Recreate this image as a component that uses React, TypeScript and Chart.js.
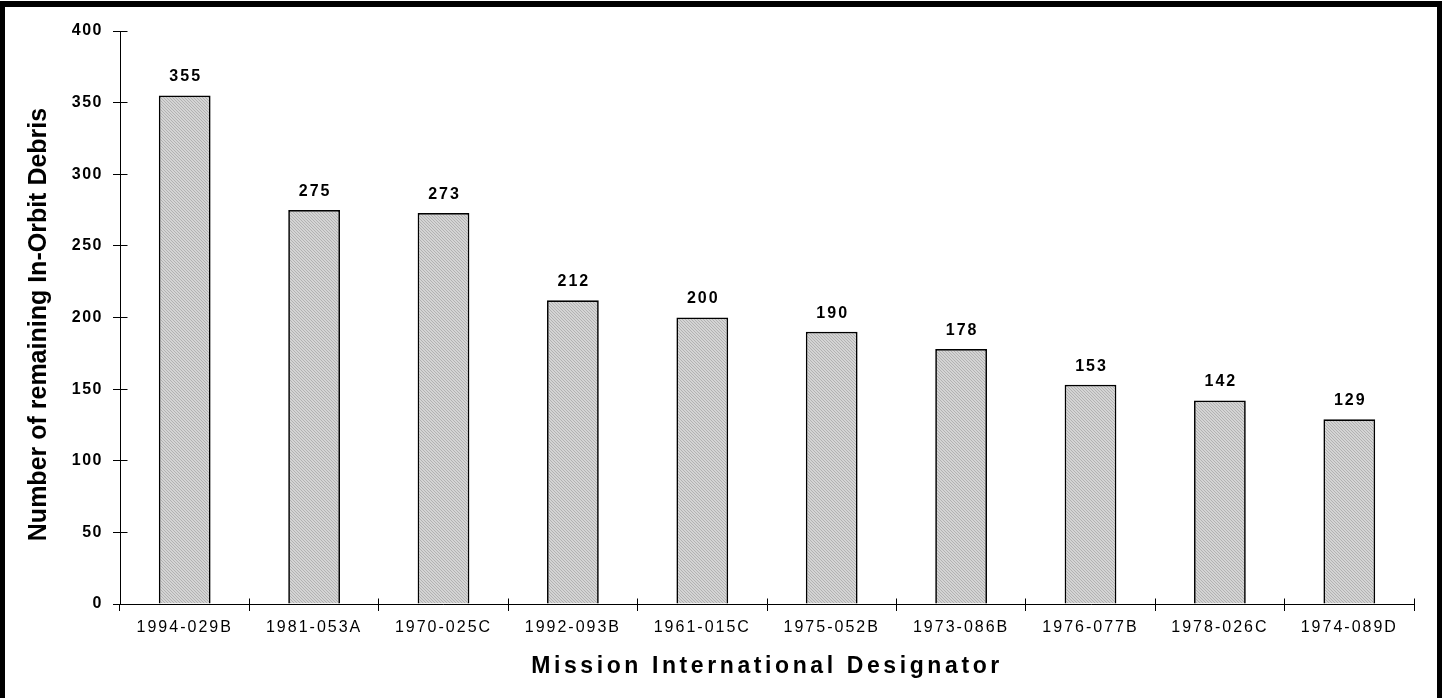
import { useEffect, useRef } from 'react';
import { Chart, registerables } from 'chart.js';

Chart.register(...registerables);

const designators = [
  '1994-029B', '1981-053A', '1970-025C', '1992-093B', '1961-015C',
  '1975-052B', '1973-086B', '1976-077B', '1978-026C', '1974-089D',
];
const debrisCounts = [355, 275, 273, 212, 200, 190, 178, 153, 142, 129];
const yMin = 0;
const yMax = 400;
const yStep = 50;
const xTitle = 'Mission International Designator';
const yTitle = 'Number of remaining In-Orbit Debris';

const FONT = '"Liberation Sans", Arial, Helvetica, sans-serif';

function makePattern(): CanvasPattern | string {
  const c = document.createElement('canvas');
  c.width = 3;
  c.height = 3;
  const g = c.getContext('2d');
  if (!g) return '#c8c8c8';
  g.fillStyle = '#d4d4d4';
  g.fillRect(0, 0, 3, 3);
  g.fillStyle = '#b2b2b2';
  for (let i = 0; i < 3; i++) g.fillRect(i, i, 1, 1);
  return g.createPattern(c, 'repeat') || '#c8c8c8';
}

const align = (p: number) => Math.round(p - 0.5) + 0.5;

const spacingPlugin = {
  id: 'letterSpacingPatch',
  beforeDraw(chart: any) {
    const ctx = chart.ctx;
    const patch = (s: any, m: string, sp: string, dx = 0, dy = 0) => {
      if (!s || s['__p_' + m]) return;
      const orig = s[m];
      s[m] = function (...args: any[]) {
        ctx.save();
        (ctx as any).letterSpacing = sp;
        ctx.translate(dx, dy);
        orig.apply(this, args);
        ctx.restore();
      };
      s['__p_' + m] = true;
    };
    patch(chart.scales.x, 'drawLabels', '2px');
    patch(chart.scales.x, 'drawTitle', '3.6px');
    patch(chart.scales.y, 'drawLabels', '1.5px');
    patch(chart.scales.y, 'drawTitle', '0px', 0, 7);
  },
};

const innerTicksPlugin = {
  id: 'innerTicks',
  beforeDatasetsDraw(chart: any) {
    const { ctx } = chart;
    const x = chart.scales.x;
    const y = chart.scales.y;
    ctx.save();
    ctx.strokeStyle = '#000';
    ctx.lineWidth = 1;
    ctx.beginPath();
    const ax = align(y.right);
    y.ticks.forEach((t: any) => {
      const py = align(y.getPixelForValue(t.value));
      ctx.moveTo(ax, py);
      ctx.lineTo(ax + 7, py);
    });
    const ay = align(x.top);
    for (let i = 0; i <= designators.length; i++) {
      const px = align(x.getPixelForValue(i - 0.5));
      ctx.moveTo(px, ay);
      ctx.lineTo(px, ay - 6);
    }
    ctx.stroke();
    ctx.restore();
  },
};

const valueLabelPlugin = {
  id: 'valueLabels',
  afterDatasetsDraw(chart: any) {
    const { ctx } = chart;
    const meta = chart.getDatasetMeta(0);
    ctx.save();
    (ctx as any).letterSpacing = '2px';
    ctx.font = `bold 16px ${FONT}`;
    ctx.fillStyle = '#000';
    ctx.textAlign = 'center';
    ctx.textBaseline = 'middle';
    meta.data.forEach((bar: any, i: number) => {
      ctx.fillText(String(debrisCounts[i]), bar.x + 1, bar.y - 18.5);
    });
    ctx.restore();
  },
};

export default function App() {
  const ref = useRef<HTMLCanvasElement | null>(null);

  useEffect(() => {
    if (!ref.current) return;
    const pattern = makePattern();
    const chart = new Chart(ref.current, {
      type: 'bar',
      data: {
        labels: designators,
        datasets: [
          {
            data: debrisCounts,
            backgroundColor: pattern as any,
            borderColor: '#000',
            borderWidth: 1.7,
            borderSkipped: 'start',
            barPercentage: 0.4,
            categoryPercentage: 1,
          },
        ],
      },
      options: {
        animation: false,
        responsive: false,
        events: [],
        layout: { padding: { top: 31, right: 28, left: 0, bottom: 0 } },
        plugins: {
          legend: { display: false },
          tooltip: { enabled: false },
          title: { display: false },
        },
        scales: {
          x: {
            offset: true,
            afterFit: (s: any) => {
              s.height = 94;
            },
            grid: {
              offset: true,
              drawOnChartArea: false,
              drawTicks: true,
              tickLength: 7,
              color: '#000',
              lineWidth: 1,
            },
            border: { display: true, color: '#000', width: 1 },
            ticks: {
              color: '#000',
              padding: 7,
              maxRotation: 0,
              autoSkip: false,
              font: { family: FONT, size: 16, weight: 'normal' },
            },
            title: {
              display: true,
              text: xTitle,
              color: '#000',
              padding: { top: 0, bottom: 18 },
              font: { family: FONT, size: 23, weight: 'bold' },
            },
          },
          y: {
            min: yMin,
            max: yMax,
            afterFit: (s: any) => {
              s.width = 120;
            },
            grid: {
              drawOnChartArea: false,
              drawTicks: true,
              tickLength: 7,
              color: '#000',
              lineWidth: 1,
            },
            border: { display: true, color: '#000', width: 1 },
            ticks: {
              stepSize: yStep,
              color: '#000',
              padding: 10,
              font: { family: FONT, size: 16, weight: 'bold' },
            },
            title: {
              display: true,
              text: yTitle,
              color: '#000',
              padding: { top: 24, bottom: 0 },
              font: { family: FONT, size: 25, weight: 'bold' },
            },
          },
        },
      },
      plugins: [spacingPlugin, innerTicksPlugin, valueLabelPlugin],
    });
    return () => chart.destroy();
  }, []);

  return (
    <div
      style={{
        position: 'fixed',
        top: 0,
        left: 0,
        width: 1442,
        height: 698,
        background: '#fff',
        overflow: 'hidden',
      }}
    >
      <canvas ref={ref} width={1442} height={698} style={{ display: 'block' }} />
      <div
        style={{
          position: 'absolute',
          top: 1,
          left: 0,
          width: 1442,
          height: 697,
          boxSizing: 'border-box',
          borderTop: '6px solid #000',
          borderLeft: '5px solid #000',
          borderRight: '5px solid #000',
          pointerEvents: 'none',
        }}
      />
    </div>
  );
}
